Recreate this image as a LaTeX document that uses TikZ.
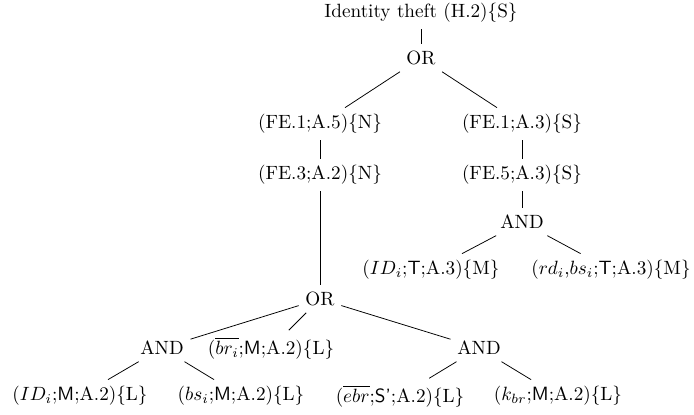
\documentclass[tikz,border=0pt]{standalone}
\tikzset{
	tnode/.style={inner sep=3.33pt},
	tedge/.style={draw=black,line width=0.4pt}
}
\newcommand{\tlink}[2]{
	\draw[tedge] (#1) -- (#2);
}

\begin{document}
\begin{tikzpicture}[x=0.521pt,y=-0.521pt]
\useasboundingbox (0,0) rectangle (694,414);

\pgfmathsetmacro{\lvA}{13}
\pgfmathsetmacro{\lvB}{58}
\pgfmathsetmacro{\lvC}{124}
\pgfmathsetmacro{\lvD}{175}
\pgfmathsetmacro{\lvE}{222}
\pgfmathsetmacro{\lvF}{270}
\pgfmathsetmacro{\lvG}{299}
\pgfmathsetmacro{\lvH}{348}
\pgfmathsetmacro{\lvI}{396}

\node[tnode] (root) at (421,\lvA) {Identity theft (H.2)$\{$S$\}$};
\node[tnode] (orTop) at (421,\lvB) {OR};
\node[tnode] (feOneL) at (320,\lvC) {(FE.1;A.5)$\{$N$\}$};
\node[tnode] (feThree) at (320,\lvD) {(FE.3;A.2)$\{$N$\}$};
\node[tnode] (feOneR) at (522,\lvC) {(FE.1;A.3)$\{$S$\}$};
\node[tnode] (feFive) at (522,\lvD) {(FE.5;A.3)$\{$S$\}$};
\node[tnode] (andT) at (522,\lvE) {AND};
\node[tnode] (idT) at (431,\lvF) {($ID_i$;\textsf{T};A.3)$\{$M$\}$};
\node[tnode] (rdT) at (611,\lvF) {($rd_i$,$bs_i$;\textsf{T};A.3)$\{$M$\}$};
\node[tnode] (orBot) at (320,\lvG) {OR};
\node[tnode] (andL) at (162,\lvH) {AND};
\node[tnode] (brM) at (271,\lvH) {($\overline{br_i}$;\textsf{M};A.2)$\{$L$\}$};
\node[tnode] (andR) at (479,\lvH) {AND};
\node[tnode] (idM) at (80,\lvI) {($ID_i$;\textsf{M};A.2)$\{$L$\}$};
\node[tnode] (bsM) at (241,\lvI) {($bs_i$;\textsf{M};A.2)$\{$L$\}$};
\node[tnode] (ebrS) at (400,\lvI) {($\overline{ebr}$;\textsf{S'};A.2)$\{$L$\}$};
\node[tnode] (kbrM) at (558,\lvI) {($k_{br}$;\textsf{M};A.2)$\{$L$\}$};

\tlink{root}{orTop}
\tlink{orTop}{feOneL}
\tlink{orTop}{feOneR}
\tlink{feOneL}{feThree}
\tlink{feThree}{orBot}
\tlink{feOneR}{feFive}
\tlink{feFive}{andT}
\tlink{andT}{idT}
\tlink{andT}{rdT}
\tlink{orBot}{andL}
\tlink{orBot}{brM}
\tlink{orBot}{andR}
\tlink{andL}{idM}
\tlink{andL}{bsM}
\tlink{andR}{ebrS}
\tlink{andR}{kbrM}
\end{tikzpicture}
\end{document}
